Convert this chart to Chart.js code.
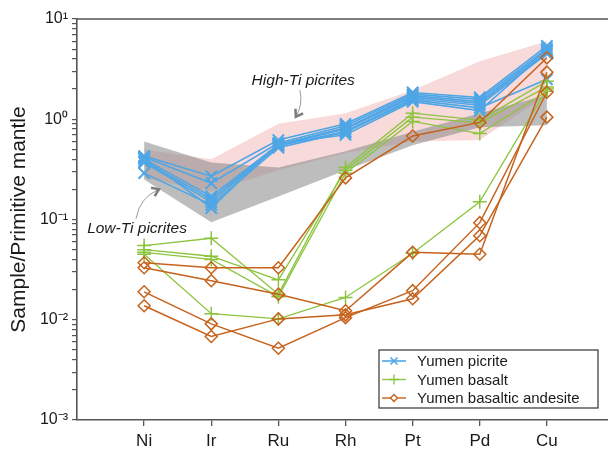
<!DOCTYPE html>
<html>
<head>
<meta charset="utf-8">
<script src="https://cdn.jsdelivr.net/npm/chart.js@4.4.1/dist/chart.umd.min.js"></script>
<style>
  html, body { margin: 0; padding: 0; background: #fff; }
  canvas { display: block; }
</style>
</head>
<body>
<canvas id="pge" width="608" height="455"></canvas>
<script>
// PGE + Cu, normalised to primitive mantle
const elements = ['Ni', 'Ir', 'Ru', 'Rh', 'Pt', 'Pd', 'Cu'];

const picrite = [
  [0.43, 0.27, 0.62, 0.90, 1.85, 1.65, 5.4],
  [0.42, 0.23, 0.58, 0.86, 1.78, 1.58, 5.1],
  [0.40, 0.17, 0.56, 0.82, 1.72, 1.50, 4.9],
  [0.38, 0.16, 0.55, 0.80, 1.66, 1.44, 4.7],
  [0.37, 0.15, 0.54, 0.76, 1.60, 1.38, 4.5],
  [0.29, 0.14, 0.52, 0.74, 1.55, 1.30, 2.5],
  [0.41, 0.13, 0.57, 0.70, 1.50, 1.22, 4.8]
];

const basalt = [
  [0.055, 0.065, 0.018, 0.33, 1.15, 0.98, 2.4],
  [0.050, 0.043, 0.025, 0.31, 1.05, 0.92, 2.1],
  [0.047, 0.040, 0.017, 0.29, 0.95, 0.72, 1.9],
  [0.045, 0.0115, 0.0102, 0.0167, 0.046, 0.15, 2.0]
];

const andesite = [
  [0.037, 0.033, 0.033, 0.26, 0.68, 0.93, 4.1],
  [0.033, 0.0245, 0.018, 0.0123, 0.047, 0.045, 2.95],
  [0.019, 0.0091, 0.0052, 0.0105, 0.0195, 0.093, 1.86],
  [0.0138, 0.0068, 0.0102, 0.0112, 0.0162, 0.069, 1.05]
];

// Emeishan picrite fields
const highTiUpper = [0.50, 0.40, 0.90, 1.15, 1.95, 3.8, 6.0];
const highTiLower = [0.26, 0.19, 0.31, 0.46, 0.60, 0.62, 1.75];
const lowTiUpper = [0.60, 0.37, 0.33, 0.48, 0.75, 1.15, 1.75];
const lowTiLower = [0.25, 0.094, 0.17, 0.31, 0.55, 0.83, 0.87];

const yTickLabels = { '10': '10¹', '1': '10⁰', '0.1': '10⁻¹', '0.01': '10⁻²', '0.001': '10⁻³' };

const BLUE = '#4ea6e6';
const GREEN = '#8cc43e';
const ORANGE = '#c6621c';
const FONT = "'Liberation Sans', Arial, sans-serif";

Chart.defaults.font.family = FONT;
Chart.defaults.color = '#1a1a1a';

const toPts = vals => vals.map((v, i) => ({ x: i + 1, y: v }));

const styles = {
  picrite: { borderColor: BLUE, pointBorderColor: BLUE, borderWidth: 1.6, pointStyle: 'crossRot', pointRadius: 8, pointBorderWidth: 2, order: 3 },
  basalt: { borderColor: GREEN, pointBorderColor: GREEN, borderWidth: 1.3, pointStyle: 'cross', pointRadius: 7, pointBorderWidth: 1.5, order: 2 },
  andesite: { borderColor: ORANGE, pointBorderColor: ORANGE, borderWidth: 1.5, pointStyle: 'rectRot', pointRadius: 6, pointBorderWidth: 1.5, order: 1 }
};

const datasets = [];
const addGroup = (label, rows, st) => rows.forEach(r => datasets.push(Object.assign({
  label, data: toPts(r), fill: false, tension: 0,
  pointBackgroundColor: 'rgba(0,0,0,0)'
}, st)));

addGroup('Yumen picrite', picrite, styles.picrite);
addGroup('Yumen basalt', basalt, styles.basalt);
addGroup('Yumen basaltic andesite', andesite, styles.andesite);

// shaded fields: lower edge, then upper edge filled down to it
const band = (lo, hi, color, order) => {
  datasets.push({ label: 'band', data: toPts(lo), borderWidth: 0, pointRadius: 0, fill: false, order });
  datasets.push({ label: 'band', data: toPts(hi), borderWidth: 0, pointRadius: 0, fill: '-1', backgroundColor: color, order });
};
band(highTiLower, highTiUpper, 'rgba(240,168,168,0.42)', 11);
band(lowTiLower, lowTiUpper, 'rgba(135,135,135,0.55)', 10);

const legendItems = [
  { text: 'Yumen picrite', color: BLUE, pointStyle: 'crossRot', radius: 5, width: 1.6 },
  { text: 'Yumen basalt', color: GREEN, pointStyle: 'cross', radius: 5, width: 1.3 },
  { text: 'Yumen basaltic andesite', color: ORANGE, pointStyle: 'rectRot', radius: 3.5, width: 1.4 }
];

const notes = [
  { text: 'High-Ti picrites', at: [3.37, 2.45], from: [3.32, 1.95], ctrl: [3.37, 1.4], to: [3.26, 1.06] },
  { text: 'Low-Ti picrites', at: [0.894, 0.081], from: [0.88, 0.102], ctrl: [0.93, 0.165], to: [1.22, 0.2] }
];

const extras = {
  id: 'extras',
  afterDraw(chart) {
    const { ctx, chartArea: a, scales: { x, y } } = chart;
    const px = p => [x.getPixelForValue(p[0]), y.getPixelForValue(p[1])];

    // top frame line
    ctx.save();
    ctx.strokeStyle = '#555';
    ctx.lineWidth = 1.6;
    ctx.beginPath();
    ctx.moveTo(a.left, a.top);
    ctx.lineTo(a.right, a.top);
    ctx.stroke();

    // field labels with arrows
    ctx.font = 'italic 15.5px ' + FONT;
    ctx.fillStyle = '#1a1a1a';
    ctx.textAlign = 'center';
    ctx.textBaseline = 'middle';
    notes.forEach(n => {
      const [tx, ty] = px(n.at);
      ctx.fillText(n.text, tx, ty);
      const [sx, sy] = px(n.from), [cx, cy] = px(n.ctrl), [ex, ey] = px(n.to);
      ctx.strokeStyle = '#9a9a9a';
      ctx.lineWidth = 1;
      ctx.beginPath();
      ctx.moveTo(sx, sy);
      ctx.quadraticCurveTo(cx, cy, ex, ey);
      ctx.stroke();
      const ang = Math.atan2(ey - cy, ex - cx);
      const L = 8, spread = 0.6;
      ctx.strokeStyle = '#7d7d7d';
      ctx.lineWidth = 2.6;
      ctx.beginPath();
      ctx.moveTo(ex - L * Math.cos(ang - spread), ey - L * Math.sin(ang - spread));
      ctx.lineTo(ex, ey);
      ctx.lineTo(ex - L * Math.cos(ang + spread), ey - L * Math.sin(ang + spread));
      ctx.stroke();
    });

    // legend box
    const w = 219, h = 58;
    const bx = a.right - 10 - w, by = a.bottom - 12 - h;
    ctx.fillStyle = '#fff';
    ctx.fillRect(bx, by, w, h);
    ctx.strokeStyle = '#333';
    ctx.lineWidth = 1.2;
    ctx.strokeRect(bx, by, w, h);
    ctx.font = '15px ' + FONT;
    ctx.textAlign = 'left';
    legendItems.forEach((it, i) => {
      const ly = by + 11 + i * 18.5;
      ctx.strokeStyle = it.color;
      ctx.lineWidth = it.width;
      ctx.beginPath();
      ctx.moveTo(bx + 3, ly);
      ctx.lineTo(bx + 27, ly);
      ctx.stroke();
      ctx.fillStyle = '#fff';
      Chart.helpers.drawPoint(ctx, { pointStyle: it.pointStyle, radius: it.radius, borderWidth: 1.3, rotation: 0 }, bx + 15, ly);
      ctx.fillStyle = '#1a1a1a';
      ctx.fillText(it.text, bx + 38, ly + 1);
    });
    ctx.restore();
  }
};

const yTickValues = [];
for (let e = -3; e <= 0; e++) {
  for (let m = 1; m <= 9; m++) yTickValues.push(+(m * Math.pow(10, e)).toPrecision(3));
}
yTickValues.push(10);

new Chart(document.getElementById('pge'), {
  type: 'line',
  data: { datasets },
  plugins: [extras],
  options: {
    responsive: false,
    animation: false,
    devicePixelRatio: 1,
    layout: { autoPadding: false, padding: { top: 19, right: 0, bottom: 0, left: 0 } },
    plugins: { legend: { display: false }, tooltip: { enabled: false } },
    scales: {
      x: {
        type: 'linear', min: 0, max: 7.91,
        afterBuildTicks: s => { s.ticks = elements.map((_, i) => ({ value: i + 1 })); },
        afterFit: s => { s.height = 35; s.paddingLeft = 0; s.paddingRight = 0; },
        ticks: {
          callback: v => elements[v - 1] || '',
          autoSkip: false, maxRotation: 0, padding: 5,
          font: { size: 17 }, color: '#1a1a1a'
        },
        grid: { drawOnChartArea: false, tickLength: 6, color: '#555', lineWidth: 1.3 },
        border: { color: '#555', width: 1.6 }
      },
      y: {
        type: 'logarithmic', min: 0.001, max: 10,
        afterBuildTicks: s => { s.ticks = yTickValues.map(v => ({ value: v })); },
        afterFit: s => { s.width = 77; },
        ticks: {
          callback: v => yTickLabels[String(v)] || '',
          autoSkip: false, padding: 4,
          font: { size: 16 }, color: '#1a1a1a'
        },
        grid: { drawOnChartArea: false, tickLength: 5, color: '#555', lineWidth: 1.2 },
        border: { color: '#555', width: 1.6 },
        title: {
          display: true, text: 'Sample/Primitive mantle',
          font: { size: 21 }, color: '#1a1a1a', padding: { top: 7, bottom: 0 }
        }
      }
    }
  }
});
</script>
</body>
</html>
